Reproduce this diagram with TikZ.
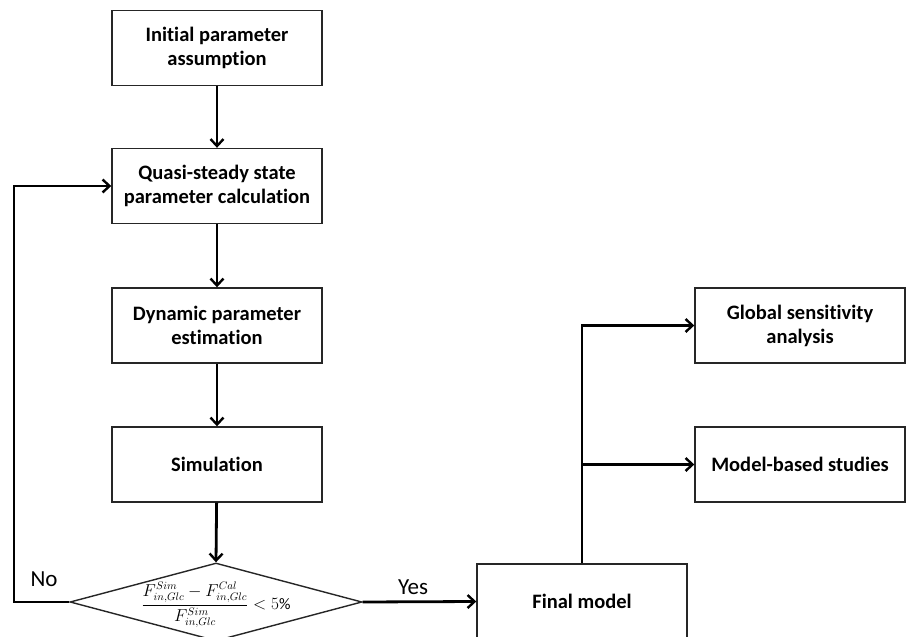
\documentclass[tikz,border=0pt]{standalone}
\usepackage{fontspec}
\setmainfont[Ligatures=NoCommon]{Carlito}
\usepackage{amsmath}
\usetikzlibrary{arrows.meta,shapes.geometric}
\tikzset{
  procbox/.style={draw=black!85, line width=1.4pt, minimum width=210pt, minimum height=75pt,
    inner sep=0pt, align=center, font=\fontsize{20.5}{24}\selectfont\bfseries},
  flow/.style={line width=2.8pt, -{Straight Barb[length=7pt,width=13pt,line width=2.4pt]}},
  lbl/.style={font=\fontsize{23}{26}\selectfont, inner sep=0pt, anchor=base}
}
\begin{document}
\begin{tikzpicture}[x=1pt,y=-1pt]
\clip (0,0) rectangle (906,637);
\fill[white] (0,0) rectangle (906,637);
\node[procbox] (init) at (217,48) {Initial parameter\\assumption};
\node[procbox] (quasi) at (217,186) {Quasi-steady state\\parameter calculation};
\node[procbox] (dyn) at (217,325.5) {Dynamic parameter\\estimation};
\node[procbox] (sim) at (217,464.5) {Simulation};
\node[draw=black!85, line width=1.4pt, shape=diamond, minimum width=292pt, minimum height=78pt, inner sep=0pt] (dec) at (216,602) {};
\node[inner sep=0pt, font=\fontsize{16}{19}\selectfont] (cond) at (216,605) {$\displaystyle \frac{F_{in,Glc}^{Sim}-F_{in,Glc}^{Cal}}{F_{in,Glc}^{Sim}}<5\%$};
\node[procbox] (final) at (582,601.5) {Final model};
\node[procbox] (glob) at (800,325.5) {Global sensitivity\\analysis};
\node[procbox] (mbs) at (800,464.5) {Model-based studies};
\node[lbl] (no) at (44,586) {No};
\node[lbl] (yes) at (413,594) {Yes};
\coordinate (loop) at (14,602);
\coordinate (branch) at (final.north |- mbs.west);
\draw[flow] (init) -- (quasi);
\draw[flow] (quasi) -- (dyn);
\draw[flow] (dyn) -- (sim);
\draw[flow] (sim) -- (dec.north);
\draw[flow] (dec.west) -- (loop) |- (quasi.west);
\draw[flow] (dec.east) -- (final.west);
\draw[flow] (final.north) |- (glob.west);
\draw[flow] (branch) -- (mbs.west);
\end{tikzpicture}
\end{document}
